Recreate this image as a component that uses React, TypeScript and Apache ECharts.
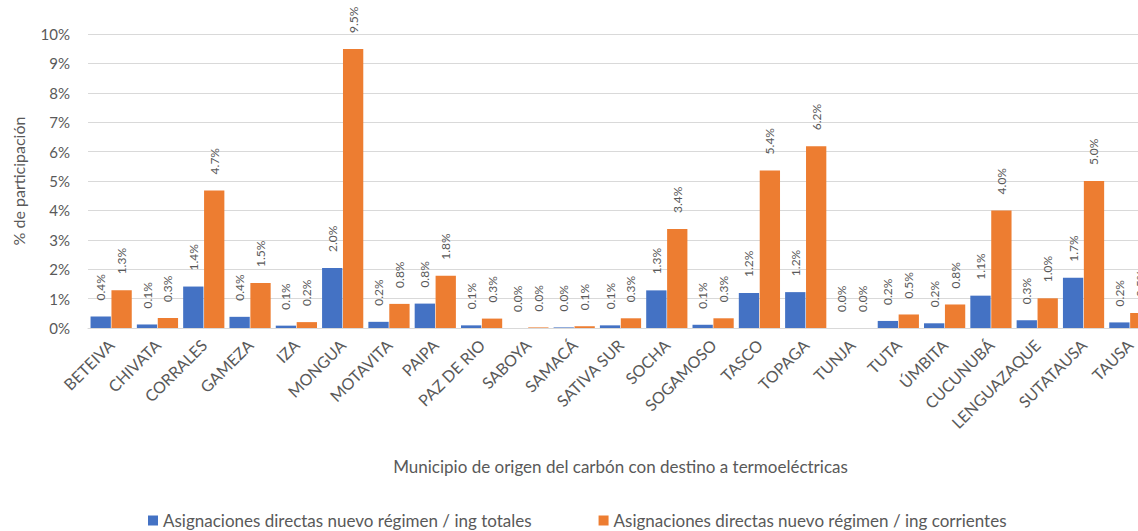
import React, { useEffect, useRef } from "react";
import * as echarts from "echarts";

// Municipalities of origin of the coal sent to thermal power plants
const municipios = [
  "BETEIVA", "CHIVATA", "CORRALES", "GAMEZA", "IZA", "MONGUA", "MOTAVITA",
  "PAIPA", "PAZ DE RIO", "SABOYA", "SAMACÁ", "SATIVA SUR", "SOCHA",
  "SOGAMOSO", "TASCO", "TOPAGA", "TUNJA", "TUTA", "ÚMBITA", "CUCUNUBÁ",
  "LENGUAZAQUE", "SUTATAUSA", "TAUSA",
];

// Share (%) of direct allocations, new regime / total income
const ingTotales = [
  0.39, 0.12, 1.41, 0.38, 0.08, 2.04, 0.21, 0.83, 0.09, 0.0, 0.02, 0.09,
  1.28, 0.11, 1.19, 1.22, 0.0, 0.24, 0.16, 1.1, 0.26, 1.71, 0.19,
];

// Share (%) of direct allocations, new regime / current income
const ingCorrientes = [
  1.28, 0.34, 4.68, 1.53, 0.2, 9.49, 0.82, 1.78, 0.32, 0.02, 0.06, 0.33,
  3.37, 0.33, 5.36, 6.18, 0.0, 0.46, 0.8, 4.0, 1.01, 5.0, 0.51,
];

const serieNames = [
  "Asignaciones directas nuevo régimen / ing totales",
  "Asignaciones directas nuevo régimen / ing corrientes",
];

const FONT = "Lato, 'Open Sans', sans-serif";
const TEXT = "#595959";

export default function App() {
  const ref = useRef<HTMLDivElement>(null);

  useEffect(() => {
    if (!ref.current) return;
    const chart = echarts.init(ref.current, undefined, { renderer: "svg" });

    const label = {
      show: true,
      position: "top" as const,
      rotate: 90,
      align: "left" as const,
      verticalAlign: "middle" as const,
      distance: 16,
      fontFamily: FONT,
      fontSize: 12,
      color: TEXT,
      formatter: (p: any) => `${Number(p.value).toFixed(1)}%`,
    };

    chart.setOption({
      animation: false,
      textStyle: { fontFamily: FONT },
      // the plot runs slightly past the visible frame on the right
      grid: { left: 88, right: 7, top: 34, bottom: 203, containLabel: false },
      legend: {
        left: 148,
        top: 512,
        padding: 0,
        icon: "rect",
        itemWidth: 10,
        itemHeight: 10,
        itemGap: 67,
        textStyle: { fontFamily: FONT, fontSize: 17, color: TEXT },
        data: serieNames,
      },
      xAxis: {
        type: "category",
        data: municipios,
        name: "Municipio de origen del carbón con destino a termoeléctricas",
        nameLocation: "middle",
        nameGap: 130,
        nameTextStyle: { fontFamily: FONT, fontSize: 17, color: TEXT },
        axisLine: { lineStyle: { color: "#D9D9D9", width: 1 } },
        axisTick: { show: false },
        axisLabel: {
          rotate: 45,
          margin: 14,
          interval: 0,
          fontFamily: FONT,
          fontSize: 16,
          color: TEXT,
        },
      },
      yAxis: {
        type: "value",
        min: 0,
        max: 10,
        interval: 1,
        name: "% de participación",
        nameLocation: "middle",
        nameGap: 62,
        nameTextStyle: { fontFamily: FONT, fontSize: 16, color: TEXT },
        axisLine: { show: false },
        axisTick: { show: false },
        axisLabel: {
          formatter: "{value}%",
          margin: 18,
          fontFamily: FONT,
          fontSize: 15,
          color: TEXT,
        },
        splitLine: { lineStyle: { color: "#D9D9D9", width: 1 } },
      },
      series: [
        {
          name: serieNames[0],
          type: "bar",
          data: ingTotales,
          barGap: "3%",
          barCategoryGap: "11%",
          itemStyle: { color: "#4472C4" },
          label,
        },
        {
          name: serieNames[1],
          type: "bar",
          data: ingCorrientes,
          barGap: "3%",
          barCategoryGap: "11%",
          itemStyle: { color: "#ED7D31" },
          label,
        },
      ],
    });

    return () => chart.dispose();
  }, []);

  return (
    <div
      style={{
        position: "absolute",
        left: 0,
        top: 0,
        width: 1138,
        height: 531,
        overflow: "hidden",
        background: "#fff",
      }}
    >
      <div ref={ref} style={{ width: 1160, height: 531 }} />
    </div>
  );
}
